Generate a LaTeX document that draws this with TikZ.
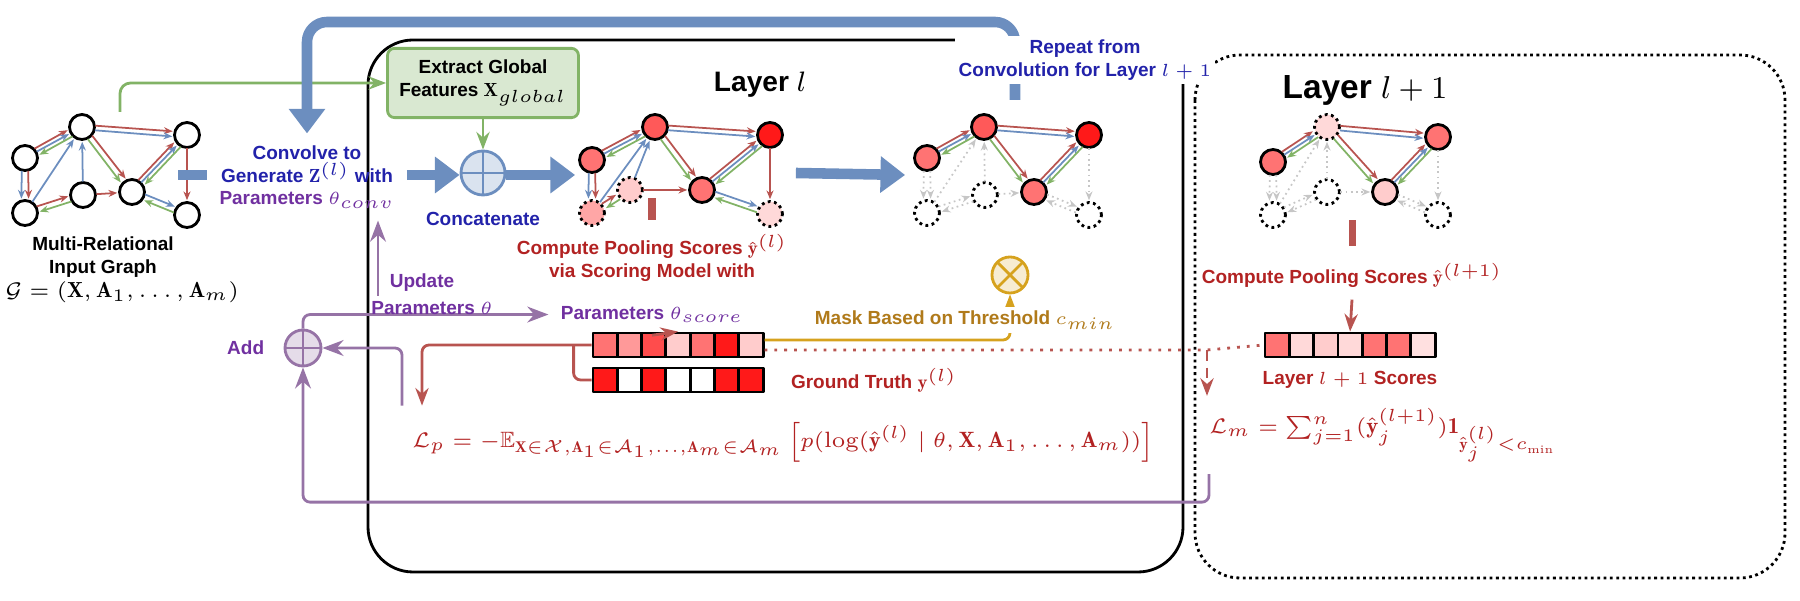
\documentclass[tikz,border=0pt]{standalone}
\usepackage{amsmath}
\usepackage{amssymb}
\usepackage{fontspec}
\setsansfont{Liberation Sans}
\usetikzlibrary{positioning, arrows.meta, calc}
\definecolor{relred}{HTML}{B85450}
\definecolor{relblue}{HTML}{6C8EBF}
\definecolor{relgreen}{HTML}{82B366}
\definecolor{flowblue}{HTML}{6C8EBF}
\definecolor{flowpurple}{HTML}{9673A6}
\definecolor{floworange}{HTML}{D6A21E}
\definecolor{txtblue}{HTML}{2222AA}
\definecolor{txtpurple}{HTML}{7030A0}
\definecolor{txtred}{HTML}{B22222}
\definecolor{txtorange}{HTML}{B07A1A}
\tikzset{
    vtx/.style={circle, draw, thick, minimum size=0.25cm, inner sep=0pt}, % graph vertices
    gone/.style={vtx, densely dotted}, % pooled-away vertices
    er/.style={relred, -{Stealth[length=2.5pt,width=2pt]}, line width=0.5pt},
    eb/.style={relblue, -{Stealth[length=2.5pt,width=2pt]}, line width=0.5pt},
    eg/.style={relgreen, -{Stealth[length=2.5pt,width=2pt]}, line width=0.5pt},
    pruned/.style={draw=gray!45, densely dotted},
    lbl/.style={font=\fontsize{5.4}{6.4}\selectfont\sffamily\bfseries, align=center},
    big/.style={draw=flowblue, line width=3pt, -{Triangle[length=7pt,width=10pt]}},
    cell/.style={draw, thick, minimum width=0.243cm, minimum height=0.24cm, inner sep=0pt},
}
% one directed relation, bent sideways by an angle to keep parallel edges apart
\newcommand{\rel}[4]{\draw[#3] ($(#1)!3.8pt!#4:(#2)$) -- ($(#2)!4.2pt!-#4:(#1)$);}
% all relations of one graph; #2 is added to the edges that touch the lower vertices
\newcommand{\graphedges}[2]{%
    \rel{#1b}{#1a}{er}{16} \rel{#1b}{#1a}{eb}{0} \rel{#1a}{#1b}{eg}{16}
    \rel{#1b}{#1c}{er,#2}{14} \rel{#1b}{#1c}{eb,#2}{-14}
    \rel{#1c}{#1a}{eb,#2}{0}
    \rel{#1c}{#1d}{er,#2}{12} \rel{#1d}{#1c}{eg,#2}{12}
    \rel{#1d}{#1a}{eb,#2}{0}
    \rel{#1d}{#1e}{er,#2}{0}
    \rel{#1a}{#1e}{er}{12} \rel{#1a}{#1e}{eg}{-12}
    \rel{#1a}{#1f}{er}{10} \rel{#1a}{#1f}{eb}{-10}
    \rel{#1e}{#1f}{er}{16} \rel{#1e}{#1f}{eb}{0} \rel{#1f}{#1e}{eg}{16}
    \rel{#1f}{#1g}{er,#2}{0}
    \rel{#1e}{#1g}{eb,#2}{12} \rel{#1g}{#1e}{eg,#2}{12}
}

\begin{document}
\begin{tikzpicture}[x=0.01cm, y=-0.01cm, line join=round]
    \useasboundingbox (0,0) rectangle (1800,601);

    % layer frames
    \draw[thick, rounded corners=0.45cm] (368,40) rectangle (1183,572);
    \draw[thick, densely dotted, rounded corners=0.45cm] (1195,55) rectangle (1785,578);

    % input graph
    \node[vtx, fill=white] (g1a) at (82,127) {};
    \node[vtx, fill=white] (g1b) at (25,158) {};
    \node[vtx, fill=white] (g1c) at (25,213) {};
    \node[vtx, fill=white] (g1d) at (83,195) {};
    \node[vtx, fill=white] (g1e) at (132,192) {};
    \node[vtx, fill=white] (g1f) at (187,135) {};
    \node[vtx, fill=white] (g1g) at (187,215) {};
    \graphedges{g1}{}
    \node[lbl] (input) at (103,257) {Multi-Relational\\Input Graph};
    \node[font=\fontsize{6.2}{7}\selectfont] (inputmath) at (122,292)
        {$\mathcal{G}=(\mathbf{X},\mathbf{A}_1,\ldots,\mathbf{A}_m)$};

    % scored graph of layer l
    \node[vtx, fill=red!65] (g2a) at (655,127) {};
    \node[vtx, fill=red!55] (g2b) at (592,160) {};
    \node[gone, fill=red!35] (g2c) at (592,213) {};
    \node[gone, fill=red!20] (g2d) at (630,190) {};
    \node[vtx, fill=red!55] (g2e) at (702,190) {};
    \node[vtx, fill=red!90] (g2f) at (770,135) {};
    \node[gone, fill=red!15] (g2g) at (770,214) {};
    \graphedges{g2}{}

    % pooled graph of layer l
    \begin{scope}[shift={(902,0)}]
        \node[vtx, fill=red!65] (g3a) at (82,127) {};
        \node[vtx, fill=red!55] (g3b) at (25,158) {};
        \node[gone, fill=white] (g3c) at (25,213) {};
        \node[gone, fill=white] (g3d) at (83,195) {};
        \node[vtx, fill=red!55] (g3e) at (132,192) {};
        \node[vtx, fill=red!90] (g3f) at (187,135) {};
        \node[gone, fill=white] (g3g) at (187,215) {};
    \end{scope}
    \graphedges{g3}{pruned}

    % graph of layer l+1
    \begin{scope}[shift={(1245,0)}]
        \node[gone, fill=red!15] (g4a) at (82,127) {};
        \node[vtx, fill=red!55] (g4b) at (28,162) {};
        \node[gone, fill=white] (g4c) at (28,215) {};
        \node[gone, fill=white] (g4d) at (82,192) {};
        \node[vtx, fill=red!20] (g4e) at (140,192) {};
        \node[vtx, fill=red!55] (g4f) at (193,137) {};
        \node[gone, fill=white] (g4g) at (193,215) {};
    \end{scope}
    \graphedges{g4}{pruned}

    % convolution and concatenation
    \node[lbl, text=txtblue] (conv) at (307,177) {Convolve to\\Generate $\mathbf{Z}^{(l)}$ with\\
        \textcolor{txtpurple}{Parameters $\theta_{conv}$}};
    \node[lbl, fill=relgreen!30, draw=relgreen, thick, rounded corners=2pt,
        minimum width=1.7cm, minimum height=0.63cm] (extract) at (483,83)
        {Extract Global\\Features $\mathbf{X}_{global}$};
    \node[circle, draw=flowblue, thick, fill=flowblue!25, minimum size=0.44cm, inner sep=0pt,
        path picture={\draw[flowblue, thick] (path picture bounding box.north) -- (path picture bounding box.south)
        (path picture bounding box.west) -- (path picture bounding box.east);}] (cat) at (483,173) {};
    \node[lbl, text=txtblue, below=1pt of cat] (catlbl) {Concatenate};
    \node[font=\fontsize{8}{10}\selectfont\sffamily\bfseries] (layer) at (760,85) {Layer $l$};
    \node[font=\fontsize{9.5}{11}\selectfont\sffamily\bfseries] (nextlayer) at (1365,90) {Layer $l+1$};

    \coordinate (ginfo) at (120,112);
    \draw[relgreen, thick, rounded corners=3pt, -{Stealth[length=5pt]}] (ginfo) |- (extract.west);
    \draw[relgreen, thick, -{Stealth[length=5pt]}] (extract.south) -- (cat.north);
    \coordinate (inR) at (178,175);
    \draw[draw=flowblue, line width=3pt] (inR) -- (conv.west |- inR);
    \draw[big] (conv.east |- inR) -- (cat.west |- inR);
    \draw[big] (cat.east |- inR) -- ($(g2b.west)+(-3,15)$);
    \draw[big] ($(g2f.east)+(12,38)$) -- ($(g3b.west)+(-8,17)$);

    % repeat loop
    \coordinate (rep) at (1015,100);
    \draw[big, rounded corners=0.2cm] (rep) |- (650,22) -| (conv.north);
    \node[lbl, text=txtblue, fill=white, inner sep=1pt] (replbl) at (1085,60) {Repeat from\\Convolution for Layer $l+1$};

    % pooling scores of layer l
    \node[lbl, text=txtred] (cps) at (652,258) {Compute Pooling Scores $\hat{\mathbf{y}}^{(l)}$\\via Scoring Model with};
    \node[lbl, text=txtpurple, below=0pt of cps] (pscore) {Parameters $\theta_{score}$};
    \draw[relred, line width=2pt] ($(cps.north)+(0,-24)$) -- ($(cps.north)+(0,-2)$);
    \foreach \c [count=\i] in {red!55, red!40, red!70, red!20, red!55, red!90, red!20}
        \node[cell, fill=\c] (sb\i) at ({593+24.3*(\i-0.5)},345) {};
    \foreach \c [count=\i] in {red!90, white, red!90, white, white, red!90, red!90}
        \node[cell, fill=\c] (gt\i) at ({593+24.3*(\i-0.5)},380) {};
    \draw[relred, thick, -{Stealth[length=5pt]}] (pscore.south) -- (sb4.north);
    \node[lbl, text=txtred, right=4pt of gt7] (gtlbl) {Ground Truth $\mathbf{y}^{(l)}$};

    % losses
    \node[text=txtred, font=\fontsize{6.3}{7.5}\selectfont, anchor=west] (lp) at (400,442)
        {$\mathcal{L}_p=-\mathbb{E}_{\mathbf{X}\in\mathcal{X},\mathbf{A}_1\in\mathcal{A}_1,\ldots,\mathbf{A}_m\in\mathcal{A}_m}
        \left[p(\log(\hat{\mathbf{y}}^{(l)}\mid\theta,\mathbf{X},\mathbf{A}_1,\ldots,\mathbf{A}_m))\right]$};
    \node[text=txtred, font=\fontsize{6.5}{7.5}\selectfont, anchor=west] (lm) at (1197,435)
        {$\mathcal{L}_m=\sum_{j=1}^{n}(\hat{\mathbf{y}}_j^{(l+1)})\mathbf{1}_{\hat{\mathbf{y}}_j^{(l)}<c_{\min}}$};
    \draw[relred, thick, rounded corners=2pt, -{Stealth[length=5pt]}] (sb1.west) -| ($(lp.north west)+(22,-4)$);
    \draw[relred, thick, rounded corners=2pt] ($(sb1.west)+(-18,0)$) |- (gt1.west);

    % masking
    \node[circle, draw=floworange, thick, fill=floworange!20, minimum size=0.36cm, inner sep=0pt,
        path picture={\draw[floworange, thick] (path picture bounding box.north west) -- (path picture bounding box.south east)
        (path picture bounding box.south west) -- (path picture bounding box.north east);}] (mask) at (1010,275) {};
    \draw[floworange, thick, rounded corners=2pt, -{Stealth[length=5pt]}] ($(sb7.east)+(0,-5)$) -| (mask.south);
    \node[lbl, text=txtorange, fill=white, inner sep=1pt] (masklbl) at (965,320) {Mask Based on Threshold $c_{min}$};

    % scores of layer l+1
    \node[lbl, text=txtred] (cps2) at (1352,275) {Compute Pooling Scores $\hat{\mathbf{y}}^{(l+1)}$};
    \draw[relred, line width=2pt] ($(cps2.north)+(0,-30)$) -- ($(cps2.north)+(0,-4)$);
    \foreach \c [count=\i] in {red!55, red!15, red!20, red!15, red!55, red!55, red!12}
        \node[cell, fill=\c] (nb\i) at ({1265+24.3*(\i-0.5)},345) {};
    \draw[relred, thick, -{Stealth[length=5pt]}] (cps2.south) -- (nb4.north);
    \node[lbl, text=txtred] (nblbl) at (1350,380) {Layer $l+1$ Scores};
    \coordinate (split) at (1207,350);
    \draw[relred, thick, dotted] ($(sb7.east)+(0,5)$) -- (split) -- (nb1.west);
    \draw[relred, thick, densely dashed, -{Stealth[length=5pt]}] (split) -- (split |- lm.north);

    % parameter updates
    \node[circle, draw=flowpurple, thick, fill=flowpurple!25, minimum size=0.36cm, inner sep=0pt,
        path picture={\draw[flowpurple, thick] (path picture bounding box.north) -- (path picture bounding box.south)
        (path picture bounding box.west) -- (path picture bounding box.east);}] (add) at (303,348) {};
    \node[lbl, text=txtpurple, left=2pt of add] (addlbl) {Add};
    \draw[flowpurple, thick, rounded corners=2pt, -{Stealth[length=6pt]}] (add.north) |- (pscore.west);
    \coordinate (upconv) at (378,296);
    \draw[flowpurple, thick, -{Stealth[length=6pt]}] (upconv) -- (upconv |- conv.south);
    \node[lbl, text=txtpurple] (updA) at (422,283) {Update};
    \node[lbl, text=txtpurple] (updB) at (432,308) {Parameters $\theta$};
    \draw[flowpurple, thick, rounded corners=2pt, -{Stealth[length=6pt]}] ($(lp.north west)+(2,-4)$) |- (add.east);
    \coordinate (lmfoot) at ($(lm.south west)+(12,0)$);
    \draw[flowpurple, thick, rounded corners=2pt, -{Stealth[length=6pt]}] (lmfoot) -- ++(0,28) -| (add.south);
\end{tikzpicture}
\end{document}
